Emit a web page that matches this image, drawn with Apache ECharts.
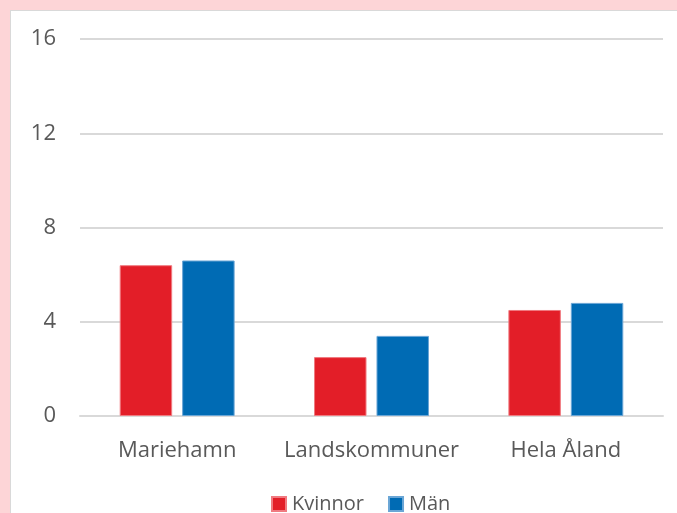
<!DOCTYPE html>
<html>
<head>
<meta charset="utf-8">
<script src="https://cdn.jsdelivr.net/npm/echarts@6/dist/echarts.min.js"></script>
<style>
html,body{margin:0;padding:0;width:677px;height:513px;overflow:hidden;background:#fdd5d7;}
#panel{position:absolute;left:10px;top:10px;width:680px;height:520px;background:#fff;border:1px solid #d9d9d9;box-sizing:border-box;}
#chart{position:absolute;left:0;top:0;width:677px;height:513px;}
</style>
</head>
<body>
<div id="panel"></div>
<div id="chart"></div>
<script>
const categories = ['Mariehamn', 'Landskommuner', 'Hela Åland'];
const kvinnor = [6.4, 2.5, 4.5];
const man = [6.6, 3.4, 4.8];
const yTicks = [0, 4, 8, 12, 16];

const chart = echarts.init(document.getElementById('chart'), null, {renderer: 'canvas'});
const font = '"Open Sans", "Noto Sans", sans-serif';
chart.setOption({
  backgroundColor: 'transparent',
  animation: false,
  grid: {left: 80, right: 14, top: 39, bottom: 97, containLabel: false},
  legend: {
    top: 494, left: 271,
    padding: 0,
    itemWidth: 14, itemHeight: 14, itemGap: 24,
    icon: 'rect',
    textStyle: {color: '#595959', fontSize: 20, fontFamily: font, padding: [0, 0, 0, 1]},
    data: ['Kvinnor', 'Män']
  },
  xAxis: {
    type: 'category', data: categories,
    axisLine: {lineStyle: {color: '#d9d9d9', width: 2}},
    axisTick: {show: false},
    axisLabel: {color: '#595959', fontSize: 22, fontFamily: font, margin: 24, interval: 0}
  },
  yAxis: {
    type: 'value', min: yTicks[0], max: yTicks[yTicks.length - 1], interval: 4,
    axisLine: {show: false}, axisTick: {show: false},
    axisLabel: {color: '#595959', fontSize: 22, fontFamily: font, margin: 24},
    splitLine: {lineStyle: {color: '#d9d9d9', width: 2}}
  },
  series: [
    {name: 'Kvinnor', type: 'bar', data: kvinnor, barWidth: '27%', barGap: '19%',
     itemStyle: {color: '#e31e28', borderColor: '#f07a80', borderWidth: 1}},
    {name: 'Män', type: 'bar', data: man, barWidth: '27%', barGap: '19%',
     itemStyle: {color: '#006bb4', borderColor: '#6aa6d6', borderWidth: 1}}
  ]
});
</script>
</body>
</html>
